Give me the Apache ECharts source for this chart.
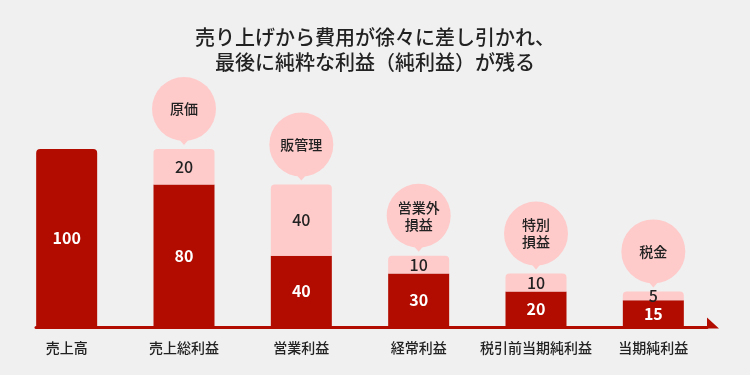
<!DOCTYPE html>
<html>
<head>
<meta charset="utf-8">
<script src="https://cdn.jsdelivr.net/npm/echarts@6/dist/echarts.min.js"></script>
<style>
html,body{margin:0;padding:0;background:#f0f0f0;}
#chart{width:750px;height:375px;}
</style>
</head>
<body>
<div id="chart"></div>
<script>
var categories = ['売上高', '売上総利益', '営業利益', '経常利益', '税引前当期純利益', '当期純利益'];
var profitValues = [100, 80, 40, 30, 20, 15];
var costValues = [null, 20, 40, 10, 10, 5];
var costNames = ['', '原価', '販管理', '営業外\n損益', '特別\n損益', '税金'];
var titleText = '売り上げから費用が徐々に差し引かれ、\n最後に純粋な利益（純利益）が残る';

var DARK = '#b20c00';
var PINK = '#ffcaca';
var FONT = '"Noto Sans CJK JP", "Noto Sans", sans-serif';

var bubbleData = [];
for (var i = 0; i < categories.length; i++) {
  if (costValues[i]) bubbleData.push([i, profitValues[i] + costValues[i], i]);
}

var profitData = profitValues.map(function (v, i) {
  return costValues[i] ? v : { value: v, itemStyle: { borderRadius: [4, 4, 0, 0] } };
});

var chart = echarts.init(document.getElementById('chart'));
chart.setOption({
  backgroundColor: '#f0f0f0',
  animation: false,
  textStyle: { fontFamily: FONT },
  title: {
    text: titleText,
    left: 'center',
    top: 20,
    textStyle: { fontFamily: FONT, fontSize: 20, fontWeight: 500, lineHeight: 25, color: '#222' }
  },
  grid: [
    { left: 8, right: 38, top: 149, bottom: 48 },
    { left: 36, right: 43, top: 149, bottom: 48 }
  ],
  xAxis: [
    {
      type: 'category', data: categories, gridIndex: 0,
      axisLine: { show: false }, axisTick: { show: false },
      axisLabel: { interval: 0, fontFamily: FONT, fontSize: 14, color: '#222', margin: 14, fontWeight: 500 }
    },
    {
      type: 'value', gridIndex: 1, min: 0, max: 1,
      axisLine: {
        show: true, onZero: false,
        symbol: ['none', 'path://M-9.5 0 L1.5 0 L1.5 -12 Z M9.5 12 L9.5 12.01 Z'],
        symbolSize: [19, 24],
        lineStyle: { color: DARK, width: 3 }
      },
      axisTick: { show: false }, axisLabel: { show: false }, splitLine: { show: false }
    }
  ],
  yAxis: [
    { type: 'value', gridIndex: 0, min: 0, max: 100, show: false },
    { type: 'value', gridIndex: 1, min: 0, max: 1, show: false }
  ],
  series: [
    {
      type: 'bar', name: 'profit', stack: 'total', barWidth: 61,
      data: profitData,
      itemStyle: { color: DARK },
      label: { show: true, position: 'inside', color: '#fff', fontFamily: FONT, fontSize: 16, fontWeight: 'bold' }
    },
    {
      type: 'bar', name: 'cost', stack: 'total', barWidth: 61,
      data: costValues,
      itemStyle: { color: PINK, borderRadius: [4, 4, 0, 0] },
      label: { show: true, position: 'inside', color: '#222', fontFamily: FONT, fontSize: 16, fontWeight: 500 }
    },
    {
      type: 'custom', name: 'bubble', clip: false, z: 5,
      data: bubbleData,
      encode: { x: 0, y: 1 },
      renderItem: function (params, api) {
        var idx = api.value(2);
        var top = api.coord([api.value(0), api.value(1)]);
        var r = 32;
        var cx = top[0];
        var cy = top[1] - 40;
        return {
          type: 'group',
          children: [
            { type: 'circle', shape: { cx: cx, cy: cy, r: r }, style: { fill: PINK } },
            { type: 'polygon', shape: { points: [[cx - 6, cy + r - 3], [cx + 6, cy + r - 3], [cx, top[1] - 4]] }, style: { fill: PINK } },
            { type: 'text', style: { text: costNames[idx], x: cx, y: cy, align: 'center', verticalAlign: 'middle', fontFamily: FONT, fontSize: 14, fontWeight: 500, lineHeight: 17, fill: '#222' } }
          ]
        };
      }
    }
  ]
});
</script>
</body>
</html>
